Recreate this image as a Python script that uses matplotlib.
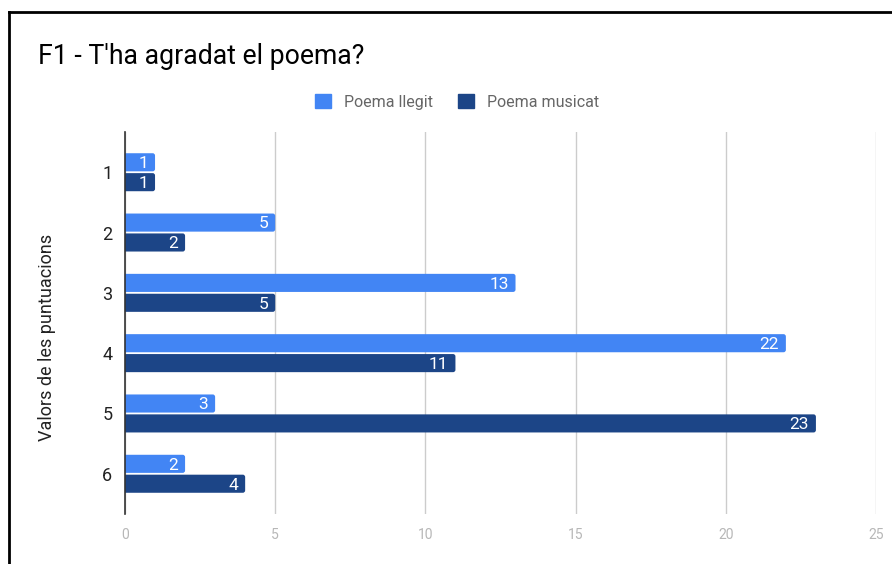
import matplotlib
matplotlib.use("Agg")
import matplotlib.pyplot as plt
from matplotlib.lines import Line2D
from matplotlib.patches import FancyBboxPatch
import numpy as np

plt.rcParams['font.family'] = ['Roboto', 'DejaVu Sans']

categories = ["1", "2", "3", "4", "5", "6"]
series_names = ["Poema llegit", "Poema musicat"]
poema_llegit = [1, 5, 13, 22, 3, 2]
poema_musicat = [1, 2, 5, 11, 23, 4]
x_ticks = [0, 5, 10, 15, 20, 25]

title = "F1 - T'ha agradat el poema?"
y_label = "Valors de les puntuacions"

colors = ["#4285F4", "#1C4587"]

fig = plt.figure(figsize=(8.92, 5.64), dpi=100)
ax = fig.add_axes([125 / 892, 1 - 514 / 564, 751 / 892, 382 / 564])

y = np.arange(len(categories))
h = 0.3
gap = 0.015
radius = 0.08  # corner radius in x data units
for vals, col, off in ((poema_llegit, colors[0], -h / 2 - gap),
                       (poema_musicat, colors[1], h / 2 + gap)):
    bars = ax.barh(y + off, vals, height=h, color=col, zorder=3)
    for b, v in zip(bars, vals):
        # rounded right end; the left end is clipped at x=0
        b.set_visible(False)
        rp = FancyBboxPatch((-radius, b.get_y()), b.get_width() + radius, b.get_height(),
                            boxstyle=f"round,pad=0,rounding_size={radius}",
                            mutation_aspect=0.5, facecolor=col, edgecolor="none",
                            zorder=3, clip_on=True)
        ax.add_patch(rp)
        ax.annotate(str(v), xy=(b.get_width(), b.get_y() + b.get_height() / 2),
                    xytext=(-5, -1), textcoords="offset points",
                    ha="right", va="center", color="white", fontsize=12.5, zorder=4)

ax.set_xlim(0, 25)
ax.set_ylim(len(categories) - 1 + 0.667, -0.667)
ax.set_xticks(x_ticks)
ax.set_xticklabels([str(t) for t in x_ticks], color="#b7b7b7", fontsize=10)
ax.set_yticks(y)
ax.set_yticklabels(categories, fontsize=13, color="#222222")
ax.tick_params(axis="both", length=0)
ax.tick_params(axis="x", pad=10)
ax.tick_params(axis="y", pad=9)
ax.grid(axis="x", color="#cccccc", linewidth=1, zorder=0)
for s in ("top", "right", "bottom"):
    ax.spines[s].set_visible(False)
ax.spines["left"].set_color("#333333")
ax.spines["left"].set_linewidth(1.2)
ax.spines["left"].set_zorder(5)

ax.set_ylabel(y_label, fontsize=13, color="#222222")
ax.yaxis.set_label_coords((56 - 125) / 751, 1 - (337 - 132) / 382)

fig.text(38 / 892, 1 - 57 / 564, title, fontsize=19.2, color="#000000",
         ha="left", va="center")

handles = [plt.Rectangle((0, 0), 1, 1, color=c) for c in colors]
leg = fig.legend(handles, series_names, loc="center", ncol=2,
                 bbox_to_anchor=(457 / 892, 1 - 102 / 564), frameon=False,
                 fontsize=11.5, handlelength=1.0, handleheight=1.0,
                 columnspacing=1.6, handletextpad=0.8)
for t in leg.get_texts():
    t.set_color("#666666")

# outer frame
fig.add_artist(Line2D([9 / 892, 9 / 892], [0, 1 - 12 / 564], transform=fig.transFigure,
                      color="black", linewidth=2))
fig.add_artist(Line2D([9 / 892, 1], [1 - 12 / 564, 1 - 12 / 564], transform=fig.transFigure,
                      color="black", linewidth=2))

fig.savefig("out.png", dpi=100)
